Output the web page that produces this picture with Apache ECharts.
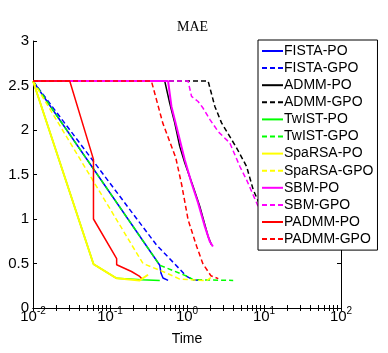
<!DOCTYPE html>
<html>
<head>
<meta charset="utf-8">
<script src="https://cdn.jsdelivr.net/npm/echarts@6/dist/echarts.min.js"></script>
<style>
  html, body { margin: 0; padding: 0; background: #fff; }
  #chart { width: 388px; height: 353px; }
</style>
</head>
<body>
<div id="chart"></div>
<script>
// time (s) vs MAE
var fistaPO   = [[0.01, 2.55], [0.443, 0.48], [0.46, 0.39], [0.488, 0.337], [0.568, 0.31]];
var fistaGPO  = [[0.01, 2.55], [0.40, 0.71], [0.99, 0.355], [1.2, 0.318], [1.47, 0.31]];
var admmPO    = [[0.01, 2.55], [0.514, 2.55], [0.597, 2.30], [0.693, 2.08], [0.805, 1.816], [0.935, 1.633],
                 [1.20, 1.366], [1.466, 1.14], [1.88, 0.804], [2.08, 0.711]];
var admmGPO   = [[0.01, 2.55], [1.88, 2.55], [2.30, 2.265], [2.81, 2.08], [4.40, 1.80], [5.94, 1.59],
                 [7.24, 1.33], [8.41, 1.20], [12, 0.85]];
var twistPO   = [[0.01, 2.55], [0.061, 0.494], [0.122, 0.333], [0.256, 0.318], [0.443, 0.31]];
var twistGPO  = [[0.01, 2.55], [0.443, 0.48], [0.985, 0.36], [1.2, 0.318], [3.98, 0.31]];
var sparsaPO  = [[0.01, 2.55], [0.061, 0.494], [0.122, 0.333], [0.243, 0.31], [0.312, 0.374]];
var sparsaGPO = [[0.01, 2.55], [0.268, 0.50], [0.541, 0.393], [0.805, 0.325], [1.80, 0.307], [2.16, 0.357]];
var sbmPO     = [[0.01, 2.55], [0.568, 2.55], [0.628, 2.265], [0.766, 1.966], [0.935, 1.666], [1.145, 1.404],
                 [1.394, 1.18], [1.703, 0.917], [1.977, 0.748], [2.17, 0.69]];
var sbmGPO    = [[0.01, 2.55], [1.033, 2.55], [1.145, 2.378], [1.394, 2.32], [1.614, 2.247], [1.977, 2.12],
                 [2.55, 1.98], [3.60, 1.854], [4.86, 1.59], [5.94, 1.44], [8.41, 1.14], [11, 0.95]];
var padmmPO   = [[0.01, 2.55], [0.03, 2.55], [0.061, 1.67], [0.061, 1.0], [0.122, 0.554], [0.122, 0.486],
                 [0.19, 0.41], [0.243, 0.355], [0.256, 0.335]];
var padmmGPO  = [[0.01, 2.55], [0.345, 2.55], [0.484, 2.08], [0.714, 1.69], [0.853, 1.385], [1.033, 0.992],
                 [1.337, 0.69], [1.604, 0.50], [2.04, 0.363], [2.55, 0.33]];

var names  = ['FISTA-PO', 'FISTA-GPO', 'ADMM-PO', 'ADMM-GPO', 'TwIST-PO', 'TwIST-GPO',
              'SpaRSA-PO', 'SpaRSA-GPO', 'SBM-PO', 'SBM-GPO', 'PADMM-PO', 'PADMM-GPO'];
var lines  = [fistaPO, fistaGPO, admmPO, admmGPO, twistPO, twistGPO,
              sparsaPO, sparsaGPO, sbmPO, sbmGPO, padmmPO, padmmGPO];
var colors = ['#0000ff', '#0000ff', '#000000', '#000000', '#00ff00', '#00ff00',
              '#ffff00', '#ffff00', '#ff00ff', '#ff00ff', '#ff0000', '#ff0000'];
var widths = [1.5, 1.5, 1.5, 1.5, 1.5, 1.5, 2, 1.5, 2, 1.5, 1.5, 1.5];

var xTicks = [0.01, 0.1, 1, 10, 100];
var yMin = 0, yMax = 3, yStep = 0.5;

var font = 'Liberation Sans, Arial, sans-serif';

// minor log ticks 1..9 per decade
var xMinor = [];
for (var d = 0; d < xTicks.length - 1; d++) {
  for (var k = 1; k < 10; k++) xMinor.push(+(xTicks[d] * k).toPrecision(3));
}
xMinor.push(100);

var series = names.map(function (n, i) {
  return {
    name: n,
    type: 'line',
    data: lines[i],
    symbol: 'none',
    showSymbol: false,
    animation: false,
    itemStyle: { color: colors[i] },
    lineStyle: { color: colors[i], width: widths[i], type: i % 2 ? [5, 3] : 'solid' }
  };
});

function xAx(pos) {
  return {
    type: 'log', logBase: 10, min: 0.01, max: 100, position: pos,
    axisLine: { show: true, lineStyle: { color: '#000', width: 1 } },
    axisTick: { show: true, inside: true, length: 3, customValues: xMinor, lineStyle: { color: '#000' } },
    splitLine: { show: false },
    axisLabel: { show: false }
  };
}
function yAx(pos) {
  return {
    type: 'value', min: yMin, max: yMax, interval: yStep, position: pos,
    axisLine: { show: true, lineStyle: { color: '#000', width: 1 } },
    axisTick: { show: true, inside: true, length: 4, lineStyle: { color: '#000' } },
    splitLine: { show: false },
    axisLabel: { show: false }
  };
}

var xBottom = xAx('bottom');
xBottom.axisLabel = {
  show: true, customValues: xTicks, margin: 1, color: '#000',
  formatter: function (v) {
    return '{b|10}{s|' + Math.round(Math.log10(v)) + '}';
  },
  rich: {
    b: { fontSize: 15, fontFamily: font, color: '#000', lineHeight: 15 },
    s: { fontSize: 10, fontFamily: font, color: '#000', lineHeight: 10, padding: [0, 0, 11, 0] }
  }
};
xBottom.name = 'Time';
xBottom.nameLocation = 'middle';
xBottom.nameGap = 18;
xBottom.nameTextStyle = { fontSize: 14, fontFamily: font, color: '#000' };

var yLeft = yAx('left');
yLeft.axisLabel = { show: true, margin: 4, fontSize: 15, fontFamily: font, color: '#000' };

var chart = echarts.init(document.getElementById('chart'));
chart.setOption({
  animation: false,
  backgroundColor: '#fff',
  title: {
    text: 'MAE', left: 172, top: 15,
    textStyle: { fontFamily: 'Liberation Serif, Times New Roman, serif', fontSize: 14, fontWeight: 'normal', color: '#000' }
  },
  grid: { left: 33, right: 47, top: 41, bottom: 45 },
  xAxis: [xBottom, xAx('top')],
  yAxis: [yLeft, yAx('right')],
  legend: {
    data: names,
    orient: 'vertical',
    left: 258, top: 40,
    padding: [4, 4, 4, 3],
    itemGap: 3.1,
    itemWidth: 21,
    itemHeight: 14,
    itemStyle: { opacity: 0 },
    lineStyle: { width: 2 },
    backgroundColor: '#fff',
    borderColor: '#000',
    borderWidth: 1,
    borderRadius: 0,
    textStyle: { fontSize: 14, fontFamily: font, color: '#000', padding: [0, 0, 0, -4] }
  },
  series: series
});
</script>
</body>
</html>
